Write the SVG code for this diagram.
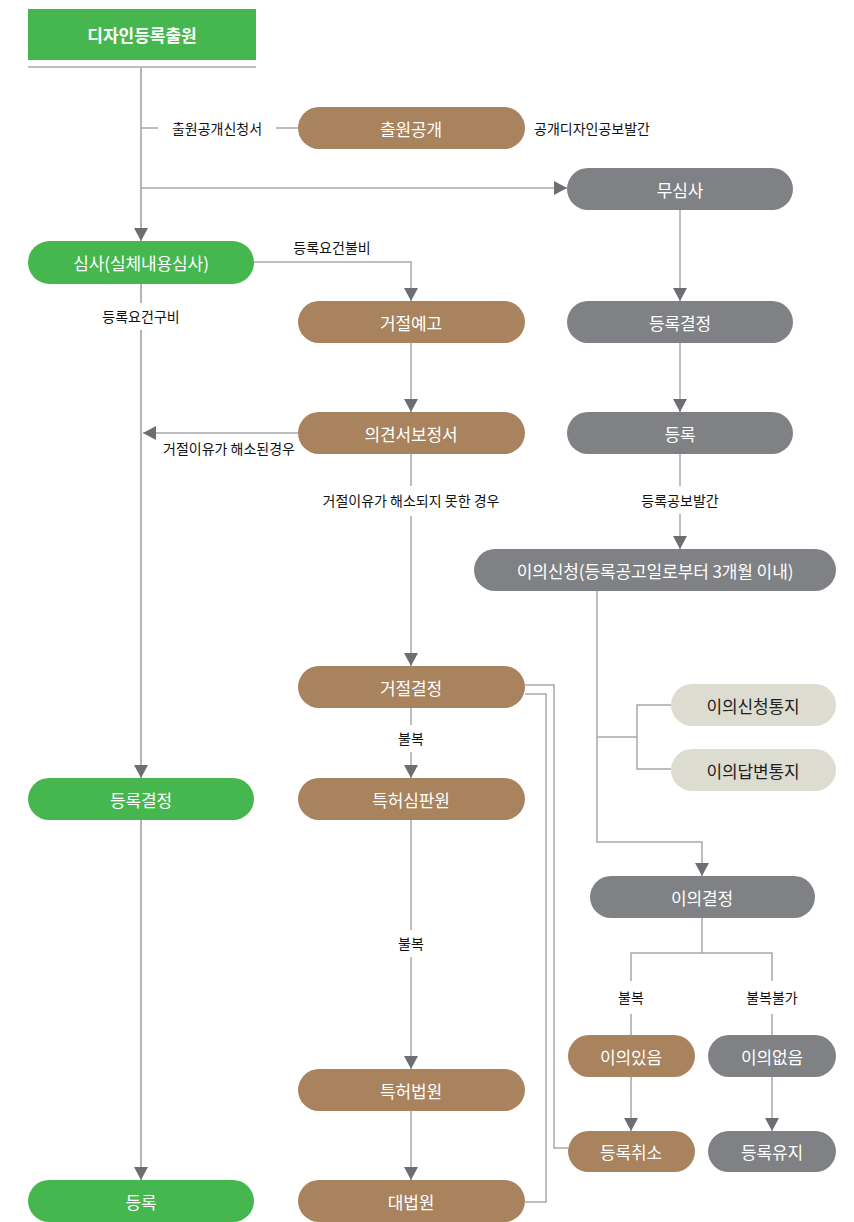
<svg xmlns="http://www.w3.org/2000/svg" width="854" height="1222" viewBox="0 0 854 1222">
<style>
.green{fill:#46b74f}
.brown{fill:#a9825e}
.gray{fill:#808184}
.beige{fill:#dcdcd1}
.nt{font-family:"Noto Sans CJK KR","Noto Sans",sans-serif;font-size:17px;fill:#fff;text-anchor:middle;dominant-baseline:central;letter-spacing:-0.1px}
.dt{fill:#222}
.title{font-weight:bold;font-size:17px;letter-spacing:0}
.lb{font-family:"Noto Sans CJK KR","Noto Sans",sans-serif;font-size:14px;fill:#111;text-anchor:middle;dominant-baseline:central;letter-spacing:0}
.ln{fill:none;stroke:#a6a8ab;stroke-width:1.5}
.lt{fill:none;stroke:#b4b5b7;stroke-width:2}
.ar{marker-end:url(#arr)}
</style>
<defs>
<marker id="arr" markerUnits="userSpaceOnUse" viewBox="0 0 13 14" markerWidth="13" markerHeight="14" refX="13" refY="7" orient="auto">
<path d="M0,0 L13,7 L0,14 z" fill="#6d6e71"/>
</marker>
</defs>
<rect width="854" height="1222" fill="#fff"/>
<g id="connectors">
<line class="ln" x1="28" y1="67" x2="256" y2="67" stroke="#9a9a9a"/>
<line class="lt ar" x1="141" y1="67" x2="141" y2="241"/>
<line class="ln" x1="141" y1="128" x2="158" y2="128"/>
<line class="ln" x1="276" y1="128" x2="298" y2="128"/>
<line class="ln ar" x1="141" y1="188" x2="567" y2="188"/>
<line class="lt" x1="141" y1="284" x2="141" y2="303"/>
<line class="lt ar" x1="141" y1="330" x2="141" y2="778"/>
<polyline class="ln ar" points="254,262 411,262 411,301"/>
<line class="ln ar" x1="411" y1="343" x2="411" y2="412"/>
<line class="ln ar" x1="298" y1="433" x2="143" y2="433"/>
<line class="ln" x1="411" y1="454" x2="411" y2="486"/>
<line class="ln ar" x1="411" y1="516" x2="411" y2="666"/>
<line class="ln" x1="411" y1="708" x2="411" y2="725"/>
<line class="ln ar" x1="411" y1="752" x2="411" y2="778"/>
<line class="ln" x1="411" y1="820" x2="411" y2="930"/>
<line class="ln ar" x1="411" y1="957" x2="411" y2="1069"/>
<line class="ln ar" x1="411" y1="1111" x2="411" y2="1180"/>
<line class="lt ar" x1="141" y1="820" x2="141" y2="1180"/>
<polyline class="ln" points="525,685 554,685 554,1148 568,1148"/>
<polyline class="ln" points="525,694 546,694 546,1202 525,1202"/>
<line class="ln ar" x1="680" y1="210" x2="680" y2="301"/>
<line class="ln ar" x1="680" y1="343" x2="680" y2="412"/>
<line class="ln" x1="680" y1="454" x2="680" y2="486"/>
<line class="ln ar" x1="680" y1="514" x2="680" y2="549"/>
<polyline class="ln ar" points="597,591 597,842 702,842 702,876"/>
<line class="ln" x1="597" y1="737" x2="637" y2="737"/>
<polyline class="ln" points="671,705 637,705 637,769 671,769"/>
<line class="ln" x1="702" y1="918" x2="702" y2="953"/>
<polyline class="ln" points="631,981 631,953 772,953 772,981"/>
<line class="ln" x1="631" y1="1014" x2="631" y2="1035"/>
<line class="ln" x1="772" y1="1014" x2="772" y2="1035"/>
<line class="ln ar" x1="631" y1="1077" x2="631" y2="1131"/>
<line class="ln ar" x1="772" y1="1077" x2="772" y2="1131"/>
</g>
<g id="labels">
<text class="lb" x="217" y="128">출원공개신청서</text>
<text class="lb" x="534" y="128" style="text-anchor:start">공개디자인공보발간</text>
<text class="lb" x="332" y="247">등록요건불비</text>
<text class="lb" x="141" y="316">등록요건구비</text>
<text class="lb" x="229" y="448">거절이유가 해소된경우</text>
<text class="lb" x="411" y="500">거절이유가 해소되지 못한 경우</text>
<text class="lb" x="680" y="500">등록공보발간</text>
<text class="lb" x="411" y="738">불복</text>
<text class="lb" x="411" y="943">불복</text>
<text class="lb" x="631" y="997">불복</text>
<text class="lb" x="772" y="997">불복불가</text>
</g>
<g id="n-apply"><rect class="green" x="28" y="9" width="228" height="51"/><text class="nt title" x="142" y="34">디자인등록출원</text></g>
<g id="n-publish"><rect class="brown" x="298" y="107" width="227" height="42" rx="21"/><text class="nt" x="411" y="128">출원공개</text></g>
<g id="n-noexam"><rect class="gray" x="567" y="168" width="226" height="42" rx="21"/><text class="nt" x="680" y="189">무심사</text></g>
<g id="n-exam"><rect class="green" x="28" y="241" width="226" height="43" rx="21.5"/><text class="nt" x="141" y="262">심사(실체내용심사)</text></g>
<g id="n-notice"><rect class="brown" x="298" y="301" width="227" height="42" rx="21"/><text class="nt" x="411" y="322">거절예고</text></g>
<g id="n-regdec-gray"><rect class="gray" x="567" y="301" width="226" height="42" rx="21"/><text class="nt" x="680" y="322">등록결정</text></g>
<g id="n-opinion"><rect class="brown" x="298" y="412" width="227" height="42" rx="21"/><text class="nt" x="411" y="433">의견서보정서</text></g>
<g id="n-reg-gray"><rect class="gray" x="567" y="412" width="226" height="42" rx="21"/><text class="nt" x="680" y="433">등록</text></g>
<g id="n-objection"><rect class="gray" x="474" y="549" width="362" height="42" rx="21"/><text class="nt" x="655" y="570">이의신청(등록공고일로부터 3개월 이내)</text></g>
<g id="n-reject"><rect class="brown" x="298" y="666" width="227" height="42" rx="21"/><text class="nt" x="411" y="687">거절결정</text></g>
<g id="n-objnotice"><rect class="beige" x="671" y="684" width="165" height="42" rx="21"/><text class="nt dt" x="753" y="705">이의신청통지</text></g>
<g id="n-objreply"><rect class="beige" x="671" y="749" width="165" height="42" rx="21"/><text class="nt dt" x="753" y="770">이의답변통지</text></g>
<g id="n-regdec"><rect class="green" x="28" y="778" width="226" height="42" rx="21"/><text class="nt" x="141" y="799">등록결정</text></g>
<g id="n-trial"><rect class="brown" x="298" y="778" width="227" height="42" rx="21"/><text class="nt" x="411" y="799">특허심판원</text></g>
<g id="n-objdec"><rect class="gray" x="590" y="876" width="225" height="42" rx="21"/><text class="nt" x="702" y="897">이의결정</text></g>
<g id="n-objyes"><rect class="brown" x="568" y="1035" width="127" height="42" rx="21"/><text class="nt" x="631" y="1056">이의있음</text></g>
<g id="n-objno"><rect class="gray" x="708" y="1035" width="128" height="42" rx="21"/><text class="nt" x="772" y="1056">이의없음</text></g>
<g id="n-patentcourt"><rect class="brown" x="298" y="1069" width="227" height="42" rx="21"/><text class="nt" x="411" y="1090">특허법원</text></g>
<g id="n-cancel"><rect class="brown" x="568" y="1131" width="127" height="41" rx="20.5"/><text class="nt" x="631" y="1151">등록취소</text></g>
<g id="n-keep"><rect class="gray" x="708" y="1131" width="128" height="41" rx="20.5"/><text class="nt" x="772" y="1151">등록유지</text></g>
<g id="n-reg"><rect class="green" x="28" y="1180" width="226" height="42" rx="21"/><text class="nt" x="141" y="1201">등록</text></g>
<g id="n-supreme"><rect class="brown" x="298" y="1180" width="227" height="42" rx="21"/><text class="nt" x="411" y="1201">대법원</text></g>
</svg>
